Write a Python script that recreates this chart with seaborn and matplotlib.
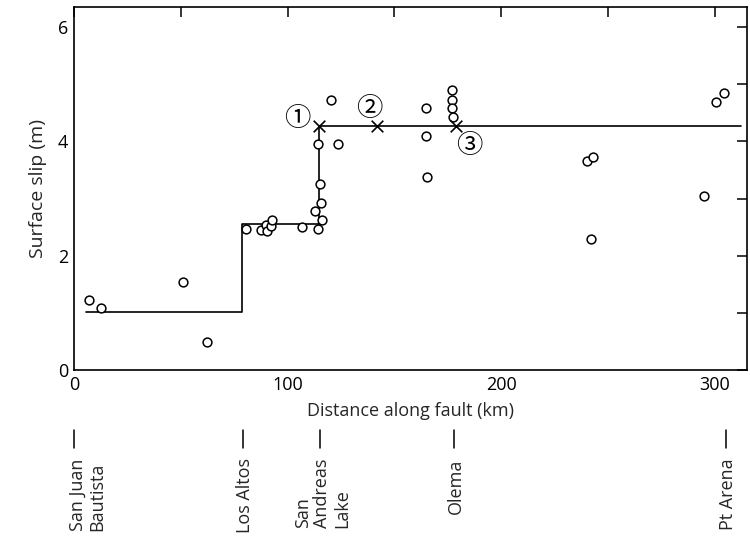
import matplotlib
matplotlib.use("Agg")
import matplotlib.pyplot as plt
import matplotlib.transforms as mtransforms
import seaborn as sns
import pandas as pd
from matplotlib.ticker import MultipleLocator

# ---- data ----
obs_km = [7.0, 12.5, 50.9, 62.3, 80.4, 87.7, 89.8, 90.4, 92.3, 92.7, 106.5,
          114.1, 116.3, 112.6, 115.7, 115.1, 114.1, 123.5, 120.4,
          164.7, 164.9, 165.3, 177.0, 177.0, 177.0, 177.5,
          240.0, 242.8, 242.0, 294.8, 300.7, 304.4]
obs_slip = [1.22, 1.08, 1.54, 0.49, 2.47, 2.45, 2.53, 2.43, 2.52, 2.62, 2.50,
            2.47, 2.62, 2.79, 2.92, 3.25, 3.95, 3.96, 4.72,
            4.59, 4.09, 3.37, 4.89, 4.73, 4.58, 4.43,
            3.66, 3.73, 2.30, 3.05, 4.68, 4.85]

model_km = [5.6, 78.8, 114.8, 312.0]
model_slip = [1.02, 2.55, 4.27, 4.27]

cross_km = [114.6, 141.8, 178.9]
cross_slip = [4.27, 4.27, 4.27]
cross_labels = ["①", "②", "③"]
label_km = [104.5, 138.2, 185.0]
label_slip = [4.40, 4.58, 3.93]

place_names = ["San Juan\nBautista", "Los Altos", "San\nAndreas\nLake", "Olema", "Pt Arena"]
place_km = [0, 79, 115, 178, 305]

# horizontal nudge (points) of each place label relative to its tick
place_dx = [8, 0, 0, 0, 0]

obs = pd.DataFrame({"km": obs_km, "slip": obs_slip})
model = pd.DataFrame({"km": model_km, "slip": model_slip})
cross = pd.DataFrame({"km": cross_km, "slip": cross_slip})

sns.set_style("white")
plt.rcParams["font.family"] = ["Open Sans", "DejaVu Sans"]

fig = plt.figure(figsize=(7.5, 5.36), dpi=100)
ax = fig.add_axes([74 / 750, 1 - 370 / 536, (747 - 74) / 750, (370 - 7) / 536])

sns.lineplot(data=model, x="km", y="slip", ax=ax, color="black", lw=1.2,
             drawstyle="steps-post", estimator=None, sort=False)
sns.scatterplot(data=obs, x="km", y="slip", ax=ax, marker="o", s=40,
                facecolor="white", edgecolor="black", linewidth=1.1, zorder=3)
sns.scatterplot(data=cross, x="km", y="slip", ax=ax, marker="x", s=70,
                color="black", linewidth=1.2, zorder=4)

for lab, xk, yk in zip(cross_labels, label_km, label_slip):
    ax.text(xk, yk, lab, ha="center", va="center", fontsize=19,
            family=["Noto Sans CJK JP", "DejaVu Sans"], color="black")

ax.set_xlim(0, 315)
ax.set_ylim(0, 6.35)
ax.xaxis.set_major_locator(MultipleLocator(100))
ax.xaxis.set_minor_locator(MultipleLocator(50))
ax.yaxis.set_major_locator(MultipleLocator(2))
ax.yaxis.set_minor_locator(MultipleLocator(1))
ax.tick_params(which="both", direction="in", top=True, right=True,
               length=7, width=1.1, color="black")
ax.tick_params(axis="both", which="major", labelsize=13, colors="black", pad=4)
for s in ax.spines.values():
    s.set_linewidth(1.2)
    s.set_color("black")

ax.set_xlabel("Distance along fault (km)", fontsize=13, labelpad=6)
ax.set_ylabel("Surface slip (m)", fontsize=14, labelpad=8)

trans = ax.get_xaxis_transform()
for name, xk, dx in zip(place_names, place_km, place_dx):
    ax.plot([xk, xk], [-0.165, -0.215], transform=trans, color="black",
            lw=1.1, clip_on=False)
    t = trans + mtransforms.ScaledTranslation(dx / 72, 0, fig.dpi_scale_trans)
    ax.text(xk, -0.243, name, transform=t, rotation=90,
            rotation_mode="anchor", ha="right", va="center_baseline",
            multialignment="left", fontsize=13, linespacing=1.1,
            clip_on=False)

fig.savefig("out.png", dpi=100)
